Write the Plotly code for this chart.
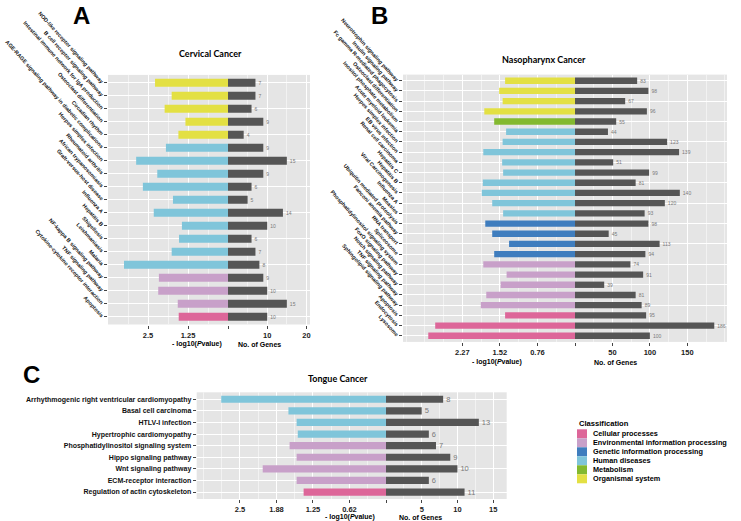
import plotly.graph_objects as go

# ---------------- data ----------------
class_order = ["Cellular processes", "Environmental information processing",
               "Genetic information processing", "Human diseases",
               "Metabolism", "Organismal system"]
class_colors = ["#DD6699", "#C8A0C9", "#3F7DBE", "#7FC5DA", "#83B92F", "#E3E043"]

cervical_pathways = [
    "NOD-like receptor signaling pathway", "B cell receptor signaling pathway",
    "Intestinal immune network for IgA production", "Osteoclast differentiation",
    "Circadian rhythm", "AGE-RAGE signaling pathway in diabetic complications",
    "Herpes simplex infection", "Rheumatoid arthritis", "African trypanosomiasis",
    "Graft-versus-host disease", "Influenza A", "Hepatitis B", "Shigellosis",
    "Leishmaniasis", "Malaria", "NF-kappa B signaling pathway",
    "TNF signaling pathway", "Cytokine-cytokine receptor interaction", "Apoptosis"]
cervical_class = ["Organismal system"] * 5 + ["Human diseases"] * 10 + \
    ["Environmental information processing"] * 3 + ["Cellular processes"]
cervical_logp = [2.28, 1.76, 1.98, 1.33, 1.55, 1.94, 2.87, 2.21, 2.66, 1.72,
                 2.32, 1.44, 1.53, 1.76, 3.25, 2.16, 2.18, 1.57, 1.54]
cervical_genes = [7, 7, 6, 9, 4, 9, 15, 9, 6, 5, 14, 10, 6, 7, 8, 9, 10, 15, 10]

naso_pathways = [
    "Neurotrophin signaling pathway", "Insulin signaling pathway",
    "Fc gamma R-mediated phagocytosis", "Osteoclast differentiation",
    "Inositol phosphate metabolism", "Acute myeloid leukemia",
    "Herpes simplex infection", "EB virus infection", "Renal cell carcinoma",
    "Hepatitis C", "Hepatitis B", "Viral Carcinogenesis", "Influenza A", "Measles",
    "Ubiquitin mediated proteolysis", "Fanconi anemia pathway", "RNA transport",
    "Spliceosome", "Phosphatidylinositol signaling system", "FoxO signaling pathway",
    "Notch signaling pathway", "TNF signaling pathway",
    "Sphingolipid signaling pathway", "Apoptosis", "Endocytosis", "Lysosome"]
naso_class = ["Organismal system"] * 4 + ["Metabolism"] + ["Human diseases"] * 9 + \
    ["Genetic information processing"] * 4 + \
    ["Environmental information processing"] * 5 + ["Cellular processes"] * 3
naso_logp = [1.41, 1.53, 1.46, 1.83, 1.63, 1.39, 1.46, 1.85, 1.47, 1.45, 1.86,
             1.88, 1.67, 1.45, 1.81, 1.67, 1.33, 1.63, 1.85, 1.38, 1.50, 1.79,
             1.90, 1.41, 2.82, 2.96]
naso_genes = [83, 98, 67, 96, 55, 44, 123, 139, 51, 99, 81, 140, 120, 93, 98, 45,
              113, 94, 74, 91, 39, 81, 89, 95, 186, 100]

tongue_pathways = [
    "Arrhythmogenic right ventricular cardiomyopathy", "Basal cell carcinoma",
    "HTLV-I infection", "Hypertrophic cardiomyopathy",
    "Phosphatidylinositol signaling system", "Hippo signaling pathway",
    "Wnt signaling pathway", "ECM-receptor interaction",
    "Regulation of actin cytoskeleton"]
tongue_class = ["Human diseases"] * 4 + ["Environmental information processing"] * 4 + \
    ["Cellular processes"]
tongue_logp = [2.82, 1.67, 1.53, 1.51, 1.65, 1.53, 2.11, 1.53, 1.41]
tongue_genes = [8, 5, 13, 6, 7, 9, 10, 6, 11]

cervical_p_ticks = [0, 1.25, 2.5]
cervical_p_labels = ["", "1.25", "2.5"]
cervical_g_ticks = [0, 10, 20]
cervical_g_labels = ["", "10", "20"]
naso_p_ticks = [0, 0.7575, 1.515, 2.2725]
naso_p_labels = ["", "0.76", "1.52", "2.27"]
naso_g_ticks = [0, 50, 100, 150]
naso_g_labels = ["", "50", "100", "150"]
tongue_p_ticks = [0, 0.625, 1.25, 1.875, 2.5]
tongue_p_labels = ["", "0.62", "1.25", "1.88", "2.5"]
tongue_g_ticks = [0, 5, 10, 15]
tongue_g_labels = ["", "5", "10", "15"]

# ---------------- layout helpers ----------------
W, H = 741, 521
def fx(p):
    return p / W
def fy(p):
    return 1 - p / H

color_of = dict(zip(class_order, class_colors))
BOLD = "Liberation Sans"
GRID = "#FFFFFF"
MINOR = "#F2F2F2"

panels = [
    dict(names=cervical_pathways, cls=cervical_class, logp=cervical_logp, genes=cervical_genes,
         xl=(108, 228), xr=(228, 310), yd=(74.9, 324.5), lrange=3.75, rrange=20.9,
         pt=cervical_p_ticks, pl=cervical_p_labels, gt=cervical_g_ticks, gl=cervical_g_labels,
         pminor=[0.625, 1.875, 3.125], gminor=[5, 15], angle=48, lab=5.4, txt=5),
    dict(names=naso_pathways, cls=naso_class, logp=naso_logp, genes=naso_genes,
         xl=(403, 575), xr=(575, 727), yd=(74.6, 341.9), lrange=3.47, rrange=203,
         pt=naso_p_ticks, pl=naso_p_labels, gt=naso_g_ticks, gl=naso_g_labels,
         pminor=[0.379, 1.136, 1.894, 2.651, 3.03, 3.409], gminor=[25, 75, 125, 175, 200],
         angle=48, lab=5.4, txt=5),
    dict(names=tongue_pathways, cls=tongue_class, logp=tongue_logp, genes=tongue_genes,
         xl=(196.7, 386), xr=(386, 506.7), yd=(392.3, 499), lrange=3.24, rrange=16.9,
         pt=tongue_p_ticks, pl=tongue_p_labels, gt=tongue_g_ticks, gl=tongue_g_labels,
         pminor=[0.3125, 0.9375, 1.5625, 2.1875, 2.8125, 3.125], gminor=[2.5, 7.5, 12.5],
         angle=0, lab=7, txt=7.5),
]

fig = go.Figure()
layout = {}
for i, p in enumerate(panels):
    a = 2 * i + 1
    b = 2 * i + 2
    xa, xb = "x" + ("" if a == 1 else str(a)), "x" + str(b)
    ya, yb = "y" + ("" if a == 1 else str(a)), "y" + str(b)
    n = len(p["names"])
    fig.add_trace(go.Bar(
        y=p["names"], x=p["logp"], orientation="h", xaxis=xa, yaxis=ya,
        marker=dict(color=[color_of[c] for c in p["cls"]], line=dict(width=0)),
        width=0.62, showlegend=False, hoverinfo="x+y"))
    fig.add_trace(go.Bar(
        y=p["names"], x=p["genes"], orientation="h", xaxis=xb, yaxis=yb,
        marker=dict(color="#555555", line=dict(width=0)), width=0.62,
        text=[str(g) for g in p["genes"]], textposition="outside",
        textfont=dict(family=BOLD, size=p["txt"], color="#7A7A7A"),
        cliponaxis=False, constraintext="none", showlegend=False, hoverinfo="x+y"))
    ydom = [fy(p["yd"][1]), fy(p["yd"][0])]
    tickfont = dict(family=BOLD, size=7.5, color="#222222", weight="bold")
    common_x = dict(anchor=ya, showgrid=True, gridcolor=GRID, gridwidth=1.1,
                    zeroline=False, showline=False, ticks="outside", ticklen=3,
                    tickcolor="#444444", tickwidth=0.8, tickfont=tickfont,
                    tickmode="array", fixedrange=True)
    layout["xaxis" + ("" if a == 1 else str(a))] = dict(
        common_x, domain=[fx(p["xl"][0]), fx(p["xl"][1])], range=[p["lrange"], 0],
        tickvals=p["pt"], ticktext=p["pl"],
        minor=dict(tickvals=p["pminor"], showgrid=True, gridcolor=MINOR, gridwidth=0.6, ticks=""))
    common_x["anchor"] = yb
    layout["xaxis" + str(b)] = dict(
        common_x, domain=[fx(p["xr"][0]), fx(p["xr"][1])], range=[0, p["rrange"]],
        tickvals=p["gt"], ticktext=p["gl"],
        minor=dict(tickvals=p["gminor"], showgrid=True, gridcolor=MINOR, gridwidth=0.6, ticks=""))
    layout["yaxis" + ("" if a == 1 else str(a))] = dict(
        domain=ydom, anchor=xa, type="category", categoryorder="array",
        categoryarray=p["names"], range=[n - 0.4, -0.6], showgrid=True,
        gridcolor=GRID, gridwidth=1.1, zeroline=False, showline=False,
        ticks="outside", ticklen=3, tickcolor="#444444", tickwidth=0.8,
        tickangle=p["angle"],
        tickfont=dict(family=BOLD, size=p["lab"], color="#111111", weight="bold"),
        fixedrange=True)
    layout["yaxis" + str(b)] = dict(
        domain=ydom, anchor=xb, type="category", categoryorder="array",
        categoryarray=p["names"], range=[n - 0.4, -0.6], showgrid=True,
        gridcolor=GRID, gridwidth=1.1, zeroline=False, showline=False,
        showticklabels=False, ticks="", fixedrange=True)

annotations = []
def note(text, x, y, size, family=BOLD, xanchor="center", color="#000000", weight="bold"):
    annotations.append(dict(text=text, x=fx(x), y=fy(y), xref="paper", yref="paper",
                            xanchor=xanchor, yanchor="middle", showarrow=False,
                            font=dict(family=family, size=size, color=color, weight=weight)))

note("A", 81, 15, 24)
note("B", 379, 16, 24)
note("C", 31, 374, 24)
note("Cervical Cancer", 210, 54, 9, family="Lato")
note("Nasopharynx Cancer", 544, 59, 9, family="Lato")
note("Tongue Cancer", 338, 378, 9, family="Lato")
note("- log10(<i>P</i>value)", 197, 344, 7)
note("No. of Genes", 259, 344, 7)
note("- log10(<i>P</i>value)", 497, 362, 7)
note("No. of Genes", 615, 362, 7)
note("- log10(<i>P</i>value)", 350, 517, 7)
note("No. of Genes", 420, 517, 7)

# legend (drawn manually)
shapes = []
note("Classification", 577, 423, 7.6, xanchor="left")
for k, (cname, ccol) in enumerate(zip(class_order, class_colors)):
    y0 = 429.3 + 9 * k
    shapes.append(dict(type="rect", xref="paper", yref="paper",
                       x0=fx(577), x1=fx(587), y0=fy(y0 + 9), y1=fy(y0),
                       fillcolor=ccol, line=dict(width=0)))
    note(cname, 591, y0 + 4.5, 7.3, xanchor="left")

fig.update_layout(
    template="none", width=W, height=H, margin=dict(l=0, r=0, t=0, b=0),
    paper_bgcolor="white", plot_bgcolor="#E5E5E5", showlegend=False,
    bargap=0.3, annotations=annotations, shapes=shapes, **layout)

fig.write_html("out.html", config={"displayModeBar": False},
               post_script="document.body.style.margin='0';document.body.style.padding='0';"
                           "document.body.style.overflow='hidden';")
